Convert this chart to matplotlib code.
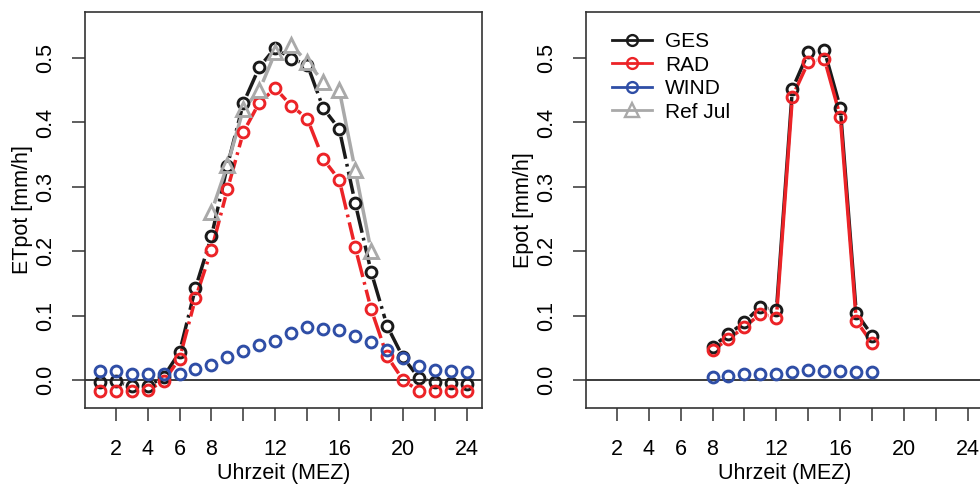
import numpy as np
import matplotlib.pyplot as plt
from matplotlib.collections import LineCollection
from matplotlib.lines import Line2D

plt.rcParams['font.family'] = ['Liberation Sans', 'DejaVu Sans']
plt.rcParams['font.size'] = 15.5

# left panel: mean diurnal course ETpot [mm/h]
hours = np.arange(1, 25)
ges_left = [-0.003, -0.002, -0.010, -0.010, 0.005, 0.043, 0.143, 0.223, 0.333, 0.430, 0.486, 0.516,
            0.499, 0.490, 0.422, 0.390, 0.275, 0.168, 0.084, 0.035, 0.003, -0.003, -0.004, -0.006]
rad_left = [-0.017, -0.017, -0.017, -0.016, -0.002, 0.033, 0.127, 0.202, 0.296, 0.385, 0.431, 0.453,
            0.426, 0.406, 0.343, 0.311, 0.206, 0.110, 0.037, 0.000, -0.017, -0.017, -0.017, -0.017]
wind_left = [0.014, 0.014, 0.010, 0.009, 0.009, 0.010, 0.017, 0.023, 0.035, 0.045, 0.055, 0.061,
             0.073, 0.083, 0.080, 0.078, 0.068, 0.059, 0.047, 0.034, 0.021, 0.016, 0.014, 0.012]
ref_hours = np.arange(8, 19)
ref_jul = [0.261, 0.334, 0.421, 0.450, 0.509, 0.520, 0.494, 0.463, 0.451, 0.326, 0.200]

# right panel: Epot [mm/h]
hours_right = np.arange(8, 19)
ges_right = [0.052, 0.071, 0.090, 0.114, 0.108, 0.452, 0.509, 0.512, 0.423, 0.104, 0.069]
rad_right = [0.046, 0.064, 0.082, 0.103, 0.097, 0.440, 0.494, 0.499, 0.409, 0.092, 0.057]
wind_right = [0.005, 0.006, 0.009, 0.009, 0.010, 0.013, 0.016, 0.014, 0.014, 0.013, 0.013]

xticks = np.arange(2, 25, 2)
xlabels = ['2', '4', '6', '8', '', '12', '', '16', '', '20', '', '24']
yticks = [0.0, 0.1, 0.2, 0.3, 0.4, 0.5]
ylabels = ['0.0', '0.1', '0.2', '0.3', '0.4', '0.5']

c_ges = '#1a1a1a'
c_rad = '#ec2327'
c_wind = '#2f4ea6'
c_ref = '#a9a9a9'
dotdash = (0, (6.5, 1.5, 0.8, 1.5))

fig = plt.figure(figsize=(9.8, 4.86), dpi=100)
ax1 = fig.add_axes([0.0867, 0.1611, 0.4048, 0.8148])
ax2 = fig.add_axes([0.598, 0.1611, 0.4048, 0.8148])


def setup(ax, ylab):
    ax.set_xlim(0.08, 24.92)
    ax.set_ylim(-0.043, 0.572)
    ax.set_xticks(xticks)
    ax.set_xticklabels(xlabels)
    ax.set_yticks(yticks)
    ax.set_yticklabels(ylabels, rotation=90, va='center')
    ax.tick_params(direction='out', length=9.5, width=1.1, color='#333333')
    ax.tick_params(axis='x', pad=13)
    ax.tick_params(axis='y', pad=11.5)
    for s in ax.spines.values():
        s.set_linewidth(1.2)
        s.set_color('#333333')
    ax.set_xlabel('Uhrzeit (MEZ)', labelpad=2)
    ax.set_ylabel(ylab, labelpad=1.5)
    ax.axhline(0, color='#1a1a1a', lw=1.2, zorder=1)


def gapped_line(ax, x, y, color, ls, gap=8, lw=2.5):
    # R type="b": segments stop short of the points
    pts = ax.transData.transform(np.column_stack([x, y]))
    inv = ax.transData.inverted()
    segs = []
    for p0, p1 in zip(pts[:-1], pts[1:]):
        d = p1 - p0
        n = np.hypot(d[0], d[1])
        if n > 2 * gap:
            u = d / n
            segs.append(inv.transform(np.array([p0 + u * gap, p1 - u * gap])))
    ax.add_collection(LineCollection(segs, colors=color, linewidths=lw,
                                     linestyles=[ls], capstyle='butt', zorder=2))


def points(ax, x, y, color, marker='o', ms=7.8):
    ax.plot(x, y, ls='none', marker=marker, ms=ms, mfc='none', mec=color, mew=2.1, zorder=3)


setup(ax1, 'ETpot [mm/h]')
setup(ax2, 'Epot [mm/h]')

# left
gapped_line(ax1, hours, ges_left, c_ges, dotdash)
points(ax1, hours, ges_left, c_ges)
gapped_line(ax1, hours, rad_left, c_rad, dotdash)
points(ax1, hours, rad_left, c_rad)
points(ax1, hours, wind_left, c_wind)
gapped_line(ax1, ref_hours, ref_jul, c_ref, '-', gap=9)
points(ax1, ref_hours, ref_jul, c_ref, marker='^', ms=10)

# right
gapped_line(ax2, hours_right, ges_right, c_ges, '-')
points(ax2, hours_right, ges_right, c_ges)
gapped_line(ax2, hours_right, rad_right, c_rad, '-')
points(ax2, hours_right, rad_right, c_rad)
points(ax2, hours_right, wind_right, c_wind)

lg = dict(lw=2.0, ms=7.8, mfc='none', mew=1.7)
handles = [
    Line2D([], [], color=c_ges, marker='o', **lg),
    Line2D([], [], color=c_rad, marker='o', **lg),
    Line2D([], [], color=c_wind, marker='o', **lg),
    Line2D([], [], color=c_ref, marker='^', **dict(lg, ms=10)),
]
ax2.legend(handles, ['GES', 'RAD', 'WIND', 'Ref Jul'], loc='upper left',
           bbox_to_anchor=(0.045, 0.97), frameon=False, fontsize=15,
           handlelength=1.9, handletextpad=0.65, labelspacing=0.22, borderaxespad=0)

fig.savefig('out.png', dpi=100)
